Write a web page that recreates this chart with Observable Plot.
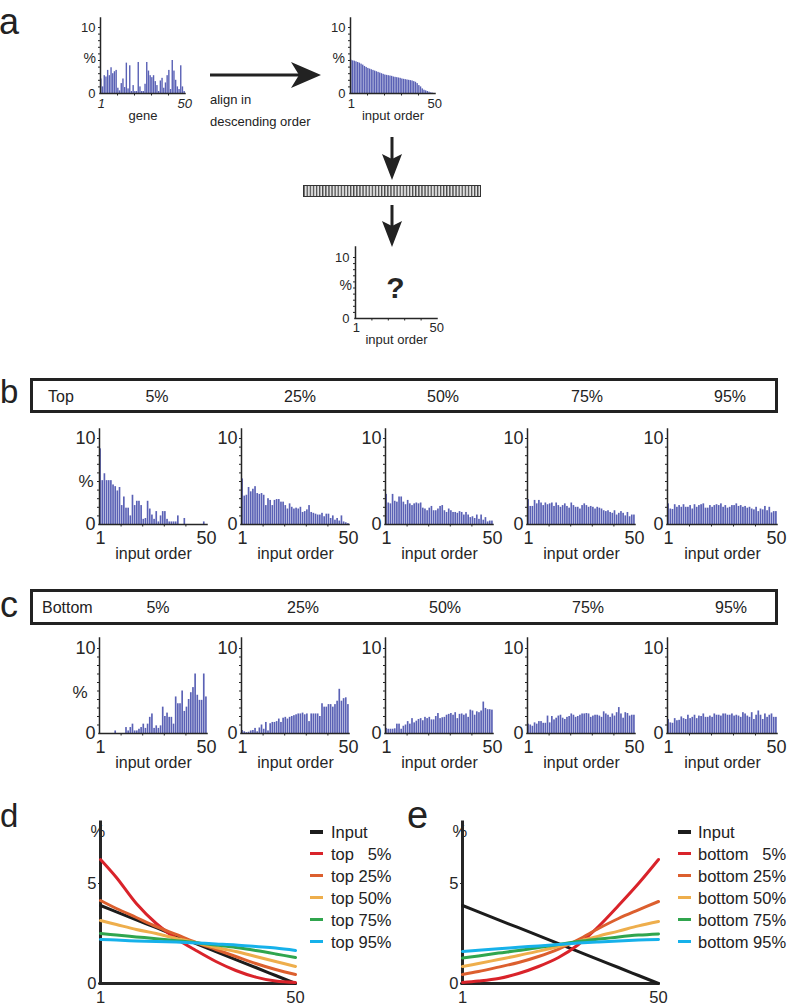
<!DOCTYPE html>
<html><head><meta charset="utf-8">
<script src="https://cdn.jsdelivr.net/npm/d3@7"></script>
<script src="https://cdn.jsdelivr.net/npm/@observablehq/plot@0.6"></script>
<style>
html,body{margin:0;padding:0;background:#fff;}
#root{position:relative;width:787px;height:1007px;overflow:hidden;font-family:"Liberation Sans",Arial,sans-serif;color:#222;}
.t{position:absolute;white-space:pre;line-height:1;}
.box{position:absolute;border:3px solid #222;box-sizing:border-box;}
</style></head><body><div id="root">
<svg id="deco" width="787" height="1007" style="position:absolute;left:0;top:0">
 <defs><pattern id="hatch" x="303.5" width="3.1" height="12" patternUnits="userSpaceOnUse"><rect width="3.1" height="12" fill="#e2e2e2"/><rect width="1.3" height="12" fill="#4a4a4a"/></pattern></defs>
 <line x1="210" y1="75" x2="300" y2="75" stroke="#222" stroke-width="3"/>
 <polygon points="321,75 291,62 299,75 291,88" fill="#222"/>
 <line x1="392" y1="137" x2="392" y2="160" stroke="#222" stroke-width="3"/>
 <polygon points="392,180 382,154 392,159 402,154" fill="#222"/>
 <rect x="303.5" y="185.5" width="177" height="11" fill="url(#hatch)" stroke="#333" stroke-width="1"/>
 <line x1="392" y1="205" x2="392" y2="226" stroke="#222" stroke-width="3"/>
 <polygon points="392,247 382,221 392,226 402,221" fill="#222"/>
</svg>
<div class="box" style="left:30px;top:378px;width:748px;height:35px"></div>
<div class="box" style="left:30px;top:589px;width:748px;height:36px"></div>
</div>
<script>
// ---------- data ----------
const geneA = [2.2,1.0,2.7,2.5,3.5,2.7,3.9,3.0,3.3,3.5,
  0.8,0.4,1.5,2.2,0.9,4.6,0.7,4.2,0.3,1.2,
  0.3,0.3,4.7,1.0,0.3,0.3,1.4,4.7,3.4,2.7,
  2.4,2.7,1.8,1.2,0.3,1.9,2.3,0.8,1.6,2.7,
  3.5,0.6,5.0,3.4,2.0,1.0,0.6,4.2,1.0,0.3];
const sortedA = [5.05,4.95,4.9,4.8,4.7,4.6,4.45,4.3,4.1,3.95,
  3.8,3.7,3.6,3.5,3.4,3.3,3.2,3.1,3.0,2.9,
  2.8,2.75,2.7,2.65,2.6,2.5,2.45,2.4,2.35,2.3,
  2.2,2.15,2.1,2.05,2.0,1.95,1.9,1.8,1.7,1.5,
  1.2,1.0,0.7,0.5,0.4,0.3,0.2,0.1,0.05,0.0];
const top5Bars = [8.8,5.1,5.9,5.1,5.1,5.1,4.6,4.4,3.9,4.3,
  2.2,3.2,1.9,1.9,1.0,3.4,2.2,2.7,2.7,2.2,
  0.6,0.7,2.7,1.8,1.1,0.6,1.5,0.3,1.0,1.5,
  1.5,0.6,0.3,0.3,0.3,0.3,1.0,0,0,0.7,
  0,0,0,0,0,0,0,0,0.3,0];
const top25Bars = [5.3,3.3,3.4,4.3,3.8,4.1,4.4,3.6,3.5,3.6,
  3.4,2.2,3.0,2.8,2.2,2.8,2.9,2.9,2.6,2.6,
  2.2,1.8,2.4,2.0,1.8,1.9,1.8,2.0,1.4,1.5,
  1.7,2.2,1.4,1.3,1.2,1.1,1.1,1.3,0.9,1.2,
  1.2,0.7,1.0,0.5,0.7,0.4,1.0,0.3,0.2,0.1];
const top50Bars = [3.5,2.5,2.4,3.5,2.7,2.6,3.2,3.2,2.6,2.3,
  2.8,2.4,2.2,2.4,2.5,2.4,2.5,1.9,1.8,1.6,
  1.9,2.1,1.6,1.6,1.8,2.1,2.2,1.6,1.4,1.8,
  1.6,1.4,1.4,1.3,1.5,1.4,1.1,1.4,1.1,0.8,
  0.9,0.7,1.1,0.6,1.1,0.5,0.8,0.3,0.4,0.4];
const top75Bars = [2.9,2.1,2.1,2.8,2.4,2.8,2.5,2.2,2.5,2.3,
  2.4,2.5,2.1,2.5,2.2,2.0,2.2,2.4,2.1,1.9,
  2.5,2.2,2.0,2.0,1.8,2.2,2.4,2.2,2.0,2.1,
  2.0,1.8,2.0,1.9,1.8,1.6,1.5,1.6,1.4,1.3,
  1.6,1.1,1.3,1.5,1.3,1.0,1.4,0.9,1.1,1.1];
const top95Bars = [2.4,1.8,1.75,2.3,2.0,2.2,2.0,2.3,2.0,2.0,
  2.2,1.8,2.3,2.0,2.2,2.3,2.4,1.9,1.9,2.2,
  2.0,2.2,2.3,2.2,2.4,2.0,2.2,1.9,2.0,2.2,
  2.2,2.4,2.1,2.2,2.0,2.1,1.9,2.0,1.8,1.7,
  2.0,1.5,1.8,1.7,2.1,1.6,2.0,1.35,1.5,1.5];
const bottom5Bars = [0,0,0,0,0,0,0,0.3,0,0,
  0,0,0.7,0.3,0.7,1.1,0.3,0.3,0.5,0.7,
  1.1,0.6,1.1,1.9,2.3,0.6,0.9,0.6,0.9,3.1,
  2.0,2.4,1.9,1.9,1.1,4.3,3.5,3.5,5.0,2.6,
  3.1,4.0,4.8,5.4,7.0,4.5,3.9,3.9,7.0,4.3];
const bottom25Bars = [0.35,0.2,0.1,0.15,0.3,0.35,0.6,0.2,0.65,1.0,
  0.5,1.3,0.3,1.15,1.3,1.3,1.4,1.7,1.3,1.8,
  1.9,1.7,1.9,2.0,2.1,2.2,2.3,2.3,2.4,2.2,
  2.3,1.4,2.3,2.3,2.3,2.3,2.0,3.5,3.1,3.1,
  3.4,3.4,3.1,3.4,3.8,5.2,3.8,4.1,4.2,3.4];
const bottom50Bars = [0.6,0.5,0.5,0.5,0.55,1.1,1.1,0.5,0.85,1.0,
  1.4,1.1,1.75,1.25,1.45,1.65,1.75,1.5,1.9,1.75,
  1.9,1.6,1.6,2.0,2.35,1.75,1.85,1.9,2.15,2.25,
  2.35,2.15,2.45,1.75,2.25,2.3,2.15,2.3,1.9,2.75,
  2.65,2.15,2.55,2.45,2.65,3.7,2.95,2.8,2.8,2.75];
const bottom75Bars = [1.1,1.0,0.85,1.25,1.1,1.4,1.4,1.2,1.2,2.05,
  1.25,2.0,1.6,1.8,2.05,2.15,1.8,1.65,1.9,2.0,
  2.3,2.15,1.9,2.0,2.15,2.3,2.3,2.35,2.3,1.9,
  2.05,2.15,2.15,2.05,1.9,2.55,2.3,2.15,1.9,2.3,
  2.05,2.45,3.05,2.3,1.8,2.45,2.35,2.05,2.15,2.15];
const bottom95Bars = [1.65,1.25,1.2,1.75,1.5,1.55,1.95,1.75,1.65,2.15,
  1.75,1.9,2.15,1.75,2.05,2.0,2.3,1.9,1.9,2.05,
  1.9,2.3,2.15,2.15,2.05,2.3,2.3,2.15,2.15,2.3,
  2.05,2.15,2.05,1.9,2.45,2.3,2.05,1.9,2.45,1.65,
  2.15,2.65,2.15,1.65,2.3,1.9,2.15,2.3,1.9,1.9];

const pctLabels = ["5%", "25%", "50%", "75%", "95%"];

const lineX = [1,5,10,15,20,25,30,35,40,45,50];
const inputLine = [3.9,3.58,3.18,2.79,2.39,1.99,1.59,1.19,0.8,0.4,0];
const top5Line = [6.2,5.3,4.0,3.0,2.25,1.65,1.1,0.65,0.32,0.12,0.05];
const top25Line = [4.15,3.75,3.3,2.85,2.45,2.05,1.7,1.35,1.0,0.7,0.45];
const top50Line = [3.15,2.95,2.7,2.5,2.25,2.05,1.8,1.6,1.35,1.1,0.85];
const top75Line = [2.5,2.42,2.33,2.24,2.14,2.04,1.92,1.8,1.65,1.48,1.3];
const top95Line = [2.2,2.17,2.13,2.1,2.07,2.03,1.98,1.93,1.85,1.77,1.65];
const bottom5Line = [0.05,0.12,0.25,0.5,0.85,1.3,1.95,2.85,3.9,5.0,6.2];
const bottom25Line = [0.45,0.6,0.82,1.05,1.35,1.72,2.2,2.75,3.25,3.68,4.1];
const bottom50Line = [0.85,1.0,1.2,1.4,1.62,1.85,2.1,2.37,2.62,2.88,3.1];
const bottom75Line = [1.27,1.38,1.52,1.65,1.8,1.95,2.1,2.22,2.33,2.42,2.48];
const bottom95Line = [1.6,1.66,1.74,1.81,1.88,1.95,2.02,2.08,2.13,2.17,2.2];

const lineColors = ["#1c1c1c", "#d9232a", "#dc5f2e", "#eeae4c", "#30a54e", "#16b1ea"];
const topNames = ["Input", "top \u20075%", "top 25%", "top 50%", "top 75%", "top 95%"];
const bottomNames = ["Input", "bottom \u20075%", "bottom 25%", "bottom 50%", "bottom 75%", "bottom 95%"];

// ---------- helpers ----------
const BAR = "#5a61b5";
const AX = "#262626";
const FONT = "Liberation Sans, Arial, sans-serif";
const root = document.getElementById("root");

function place(el, left, top) {
  el.style.position = "absolute"; el.style.left = left + "px"; el.style.top = top + "px";
  el.style.overflow = "visible"; el.style.maxWidth = "none"; root.appendChild(el);
}
function label(text, x, y, {size = 16, anchor = "middle", weight = "normal", style = "normal"} = {}) {
  const d = document.createElement("div");
  d.className = "t"; d.textContent = text;
  d.style.fontSize = size + "px"; d.style.fontWeight = weight; d.style.fontStyle = style;
  d.style.left = x + "px"; d.style.top = y + "px";
  d.style.transform = anchor === "middle" ? "translate(-50%,-50%)" : anchor === "end" ? "translate(-100%,-50%)" : "translate(0,-50%)";
  root.appendChild(d);
}
function letter(ch, x, baseline, size) {
  const d = document.createElement("div");
  d.className = "t"; d.textContent = ch;
  d.style.fontSize = size + "px"; d.style.left = x + "px"; d.style.top = (baseline - 0.8465 * size) + "px";
  root.appendChild(d);
}

function barChart(vals, o) {
  const data = vals ? vals.map((v, k) => ({i: k + 1, v})) : [];
  const ppu = (o.y0 - o.y10) / 10;
  const yMax = (o.y0 - o.top) / ppu;
  const mL = 50, mR = 22, mT = 6, mB = 50;
  const marks = [];
  if (data.length) marks.push(Plot.rect(data, {x1: d => d.i - 0.5, x2: d => d.i + 0.5, y1: d => 0, y2: "v", fill: BAR, insetLeft: o.inset, insetRight: o.inset}));
  marks.push(
    Plot.axisY({ticks: d3.range(1, 11), tickSize: 2, tickFormat: () => "", label: null, stroke: AX}),
    Plot.axisY({ticks: [0, 10], tickSize: 0, tickPadding: o.yPad, label: null, fontSize: o.fs}),
    Plot.axisX({ticks: [10.5, 20.5, 30.5, 40.5], tickSize: 2.5, tickFormat: () => "", label: null, stroke: AX}),
    Plot.axisX({ticks: [1, 50], tickSize: 0, tickPadding: o.xPad, label: null, fontSize: o.fs, fontStyle: o.italic ? "italic" : "normal"}),
    Plot.ruleX([0.5], {stroke: AX, strokeWidth: o.aw, strokeLinecap: "square"}),
    Plot.ruleY([0], {stroke: AX, strokeWidth: o.aw, strokeLinecap: "square"}),
    Plot.text([o.xlabel], {text: d => d, frameAnchor: "bottom", dy: o.labDy, fontSize: o.lfs})
  );
  if (o.pct) marks.push(Plot.text(["%"], {text: d => d, frameAnchor: "left", dx: o.pct[0], dy: o.pct[1], fontSize: o.lfs + 1}));
  if (o.q) marks.push(Plot.text(["?"], {text: d => d, frameAnchor: "middle", dx: -1, dy: 5, fontSize: 30, fontWeight: "bold"}));
  const svg = Plot.plot({
    width: mL + (o.fr - o.fl) + mR, height: mT + (o.y0 - o.top) + mB,
    marginLeft: mL, marginRight: mR, marginTop: mT, marginBottom: mB,
    x: {type: "linear", domain: [0.5, 50.5]},
    y: {type: "linear", domain: [0, yMax]},
    style: {fontFamily: FONT, fontSize: o.fs + "px", background: "transparent", color: AX, overflow: "visible"},
    marks
  });
  place(svg, o.fl - mL, o.top - mT);
}

function lineChart(seriesVals, names, o) {
  const y0 = 983, top = 822, y5 = 883;
  const yMax = (y0 - top) / ((y0 - y5) / 5);
  const mL = 40, mR = 14, mT = 10, mB = 30;
  const marks = [
    Plot.ruleX([1], {stroke: AX, strokeWidth: 3, strokeLinecap: "square"}),
    Plot.ruleY([0], {stroke: AX, strokeWidth: 3, strokeLinecap: "square"}),
    Plot.axisY({ticks: [0, 5], tickSize: 2, tickPadding: 2, label: null, fontSize: 16.5, stroke: AX}),
    Plot.axisX({ticks: [1, 50], tickSize: 0, tickPadding: 8, label: null, fontSize: 16.5}),
    Plot.text(["%"], {text: d => d, frameAnchor: "top-left", dx: -10, dy: 3, fontSize: 16.5})
  ];
  seriesVals.forEach((vals, k) => {
    const rows = vals.map((v, j) => ({x: lineX[j], y: v}));
    marks.push(Plot.line(rows, {x: "x", y: "y", stroke: lineColors[k], strokeWidth: 3, curve: "catmull-rom"}));
  });
  const svg = Plot.plot({
    width: mL + (o.fr - o.fl) + mR, height: mT + (y0 - top) + mB,
    marginLeft: mL, marginRight: mR, marginTop: mT, marginBottom: mB,
    x: {type: "linear", domain: [1, 50]},
    y: {type: "linear", domain: [0, yMax]},
    style: {fontFamily: FONT, fontSize: "16.5px", background: "transparent", color: AX, overflow: "visible"},
    marks
  });
  place(svg, o.fl - mL, top - mT);
  const ys = [832, 853.5, 875.5, 897.5, 919.5, 941.5];
  names.forEach((nm, k) => {
    const s = document.createElement("div");
    s.style.cssText = `position:absolute;left:${o.lx}px;top:${ys[k] - 1.75}px;width:13px;height:3.5px;background:${lineColors[k]}`;
    root.appendChild(s);
    label(nm, o.tx, ys[k], {size: 16.5, anchor: "start"});
  });
}

// ---------- panel a ----------
letter("a", -1, 34, 36);
barChart(geneA, {fl: 100, fr: 185, top: 18, y0: 93, y10: 27, fs: 13, lfs: 13, yPad: 5, xPad: 5, labDy: 26, xlabel: "gene", italic: true, pct: [-17, 2.5], aw: 1.5, inset: 0.15});
barChart(sortedA, {fl: 350, fr: 435, top: 18, y0: 93, y10: 27, fs: 13, lfs: 13, yPad: 5, xPad: 5, labDy: 26, xlabel: "input order", pct: [-18, 2.5], aw: 1.5, inset: 0.15});
label("align in", 210, 99, {size: 13, anchor: "start"});
label("descending order", 210, 121, {size: 13, anchor: "start"});
barChart(null, {fl: 355, fr: 437, top: 247, y0: 318, y10: 257, fs: 13, lfs: 13, yPad: 6, xPad: 4.5, labDy: 25, xlabel: "input order", pct: [-16, 2.5], aw: 1.5, q: true});

// ---------- panel b ----------
letter("b", 0, 403, 33);
label("Top", 48, 397, {size: 16, anchor: "start"});
const bCenters = [157, 300, 443, 587, 730];
pctLabels.forEach((p, k) => label(p, bCenters[k], 397, {size: 16}));
const rowLefts = [99, 241, 385, 527, 667];
const rowWidths = [108, 108, 108, 108, 110];
[top5Bars, top25Bars, top50Bars, top75Bars, top95Bars].forEach((vals, k) => {
  barChart(vals, {fl: rowLefts[k], fr: rowLefts[k] + rowWidths[k], top: 429, y0: 524, y10: 438, fs: 18, lfs: 16, yPad: 4, xPad: 6.5, labDy: 34, xlabel: "input order", pct: k === 0 ? [-21, 4.5] : null, aw: 1.5, inset: 0.25});
});

// ---------- panel c ----------
letter("c", 0, 617, 36);
label("Bottom", 42, 608, {size: 16, anchor: "start"});
const cCenters = [158, 303, 445, 588, 731];
pctLabels.forEach((p, k) => label(p, cCenters[k], 608, {size: 16}));
[bottom5Bars, bottom25Bars, bottom50Bars, bottom75Bars, bottom95Bars].forEach((vals, k) => {
  barChart(vals, {fl: rowLefts[k], fr: rowLefts[k] + rowWidths[k], top: 638, y0: 733, y10: 648, fs: 18, lfs: 16, yPad: 4, xPad: 7, labDy: 34, xlabel: "input order", pct: k === 0 ? [-27, 6.5] : null, aw: 1.5, inset: 0.25});
});

// ---------- panels d, e ----------
letter("d", 0, 827, 33);
lineChart([inputLine, top5Line, top25Line, top50Line, top75Line, top95Line], topNames, {fl: 100, fr: 295, lx: 310, tx: 331});
letter("e", 407, 828, 38);
lineChart([inputLine, bottom5Line, bottom25Line, bottom50Line, bottom75Line, bottom95Line], bottomNames, {fl: 462, fr: 658, lx: 678, tx: 698});
</script>
</body></html>
